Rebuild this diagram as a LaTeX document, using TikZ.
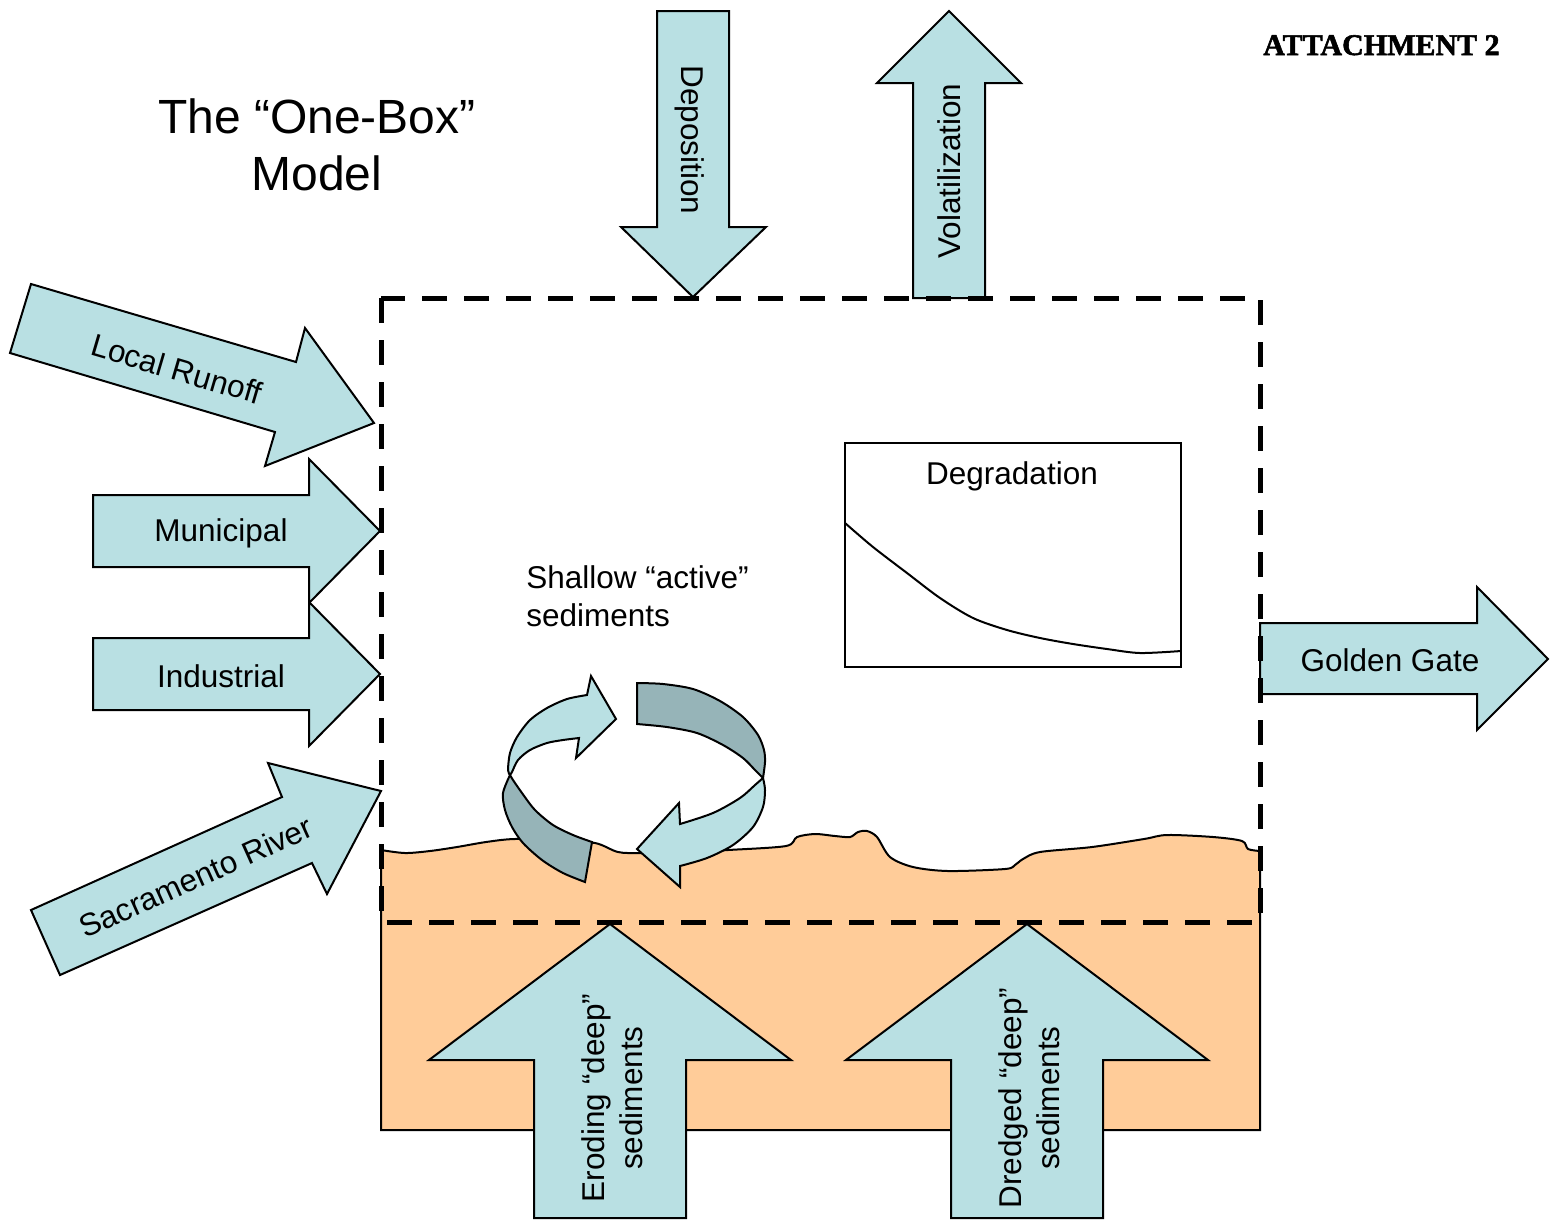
\documentclass[tikz,border=0pt]{standalone}
\usepackage{fontspec}
\setmainfont{Liberation Sans}
\newfontfamily\attachfont{Liberation Serif}[BoldFeatures={FakeBold=1.8}]
\definecolor{flowblue}{RGB}{185,224,227}
\definecolor{ribbongrey}{RGB}{150,180,184}
\definecolor{mud}{RGB}{255,204,153}
\tikzset{
  flow/.style={draw, line width=1pt, fill=flowblue, line join=miter},
  darkflow/.style={draw, line width=1pt, fill=ribbongrey},
  lbl/.style={font=\fontsize{15.75}{19}\selectfont, align=center, inner sep=0pt},
  boxline/.style={line width=2.5pt, dash pattern=on 12.5pt off 8.5pt}
}
\begin{document}
\begin{tikzpicture}[x=0.5pt, y=-0.5pt]
  \useasboundingbox (0,0) rectangle (1561,1222);
  % sediment layer with rough top
  \draw[line width=1pt, fill=mud] plot[smooth, tension=0.5] coordinates {(381,850) (405,853) (430,851) (457,847) (486,842) (514,839) (555,840) (595,843) (618,852) (641,853) (690,852) (728,850) (786,846) (797,837) (815,834) (835,836) (850,837) (858,832) (867,831) (877,837) (890,857) (913,867) (948,871) (1005,869) (1015,865) (1023,859) (1040,852) (1092,847) (1144,839) (1167,835) (1213,837) (1242,841) (1248,849) (1260,851)}
    -- (1260,1130) -- (381,1130) -- cycle;
  % degradation inset
  \draw[line width=1.3pt] (845,443) rectangle (1181,667);
  \draw[line width=1pt] plot[smooth] coordinates {(845,523) (873,547) (907,573) (940,598) (973,618) (1007,630) (1040,638) (1073,644) (1107,649) (1140,653) (1181,651)};
  \node[lbl] (degr) at (1012,476) {Degradation};
  % mixing loop
  \draw[darkflow] plot[smooth] coordinates {(510,775) (503,793) (505,810) (512,827) (523,843) (542,860) (563,873) (585,882)}
    -- (592,842) -- plot[smooth] coordinates {(592,842) (573,835) (553,825) (535,810) (522,793) (513,780) (510,775)} -- cycle;
  \draw[flow] plot[smooth] coordinates {(510,775) (508,770) (510,753) (517,737) (530,720) (547,708) (567,699) (587,695)}
    -- (591,676) -- (616,719) -- (576,758) -- (579,738)
    -- plot[smooth] coordinates {(579,738) (563,740) (547,743) (530,750) (518,760) (512,772) (510,775)} -- cycle;
  \draw[darkflow] (637,724) -- (637,683)
    -- plot[smooth] coordinates {(637,683) (663,684) (693,689) (720,701) (743,717) (758,735) (764,750) (765,762) (763,778)}
    -- plot[smooth] coordinates {(763,778) (755,770) (743,758) (723,745) (697,733) (667,727) (637,724)} -- cycle;
  \draw[flow] plot[smooth] coordinates {(763,778) (765,790) (763,807) (753,827) (733,845) (707,858) (680,866)}
    -- (680,887) -- (637,849) -- (679,803) -- (680,824)
    -- plot[smooth] coordinates {(680,824) (713,813) (740,798) (755,785) (763,778)} -- cycle;
  \node[lbl, align=left, anchor=north west] (shallow) at (526,565) {Shallow “active”\\sediments};
  % inflows from the left
  \draw[flow] (31,284) -- (296,362) -- (305,328) -- (374,423) -- (265,466) -- (275,432) -- (10,353) -- cycle;
  \node[lbl, rotate=-16.4] (runoff) at (177,369) {Local Runoff};
  \foreach \y/\name/\txt in {531/muni/Municipal, 674/indu/Industrial}{
    \draw[flow] (93,\y-36) -- (309,\y-36) -- (309,\y-72) -- (380,\y) -- (309,\y+72) -- (309,\y+36) -- (93,\y+36) -- cycle;
    \node[lbl] (\name) at (221,\y+2) {\txt};}
  \draw[flow] (31,910) -- (282,797) -- (268,763) -- (381,791) -- (327,894) -- (312,863) -- (60,975) -- cycle;
  \node[lbl, rotate=24.2] (sacto) at (196,877) {Sacramento River};
  % exchange with the air
  \draw[flow] (657,11) -- (729,11) -- (729,227) -- (766,227) -- (693,297) -- (621,227) -- (657,227) -- cycle;
  \node[lbl, rotate=-90] (depo) at (690,140) {Deposition};
  \draw[flow] (913,298) -- (913,83) -- (877,83) -- (949,11) -- (1021,83) -- (985,83) -- (985,298) -- cycle;
  \node[lbl, rotate=90] (vola) at (949,171) {Volatilization};
  % outflow
  \draw[flow] (1260,623) -- (1477,623) -- (1477,587) -- (1548,659) -- (1477,730) -- (1477,694) -- (1260,694) -- cycle;
  \node[lbl] (gate) at (1390,660) {Golden Gate};
  % deep sediment sources
  \foreach \x/\name/\txt in {610/erode/{Eroding “deep”\\sediments}, 1027/dredge/{Dredged “deep”\\sediments}}{
    \draw[flow] (\x-76,1218) -- (\x-76,1060) -- (\x-181,1060) -- (\x,924) -- (\x+181,1060) -- (\x+76,1060) -- (\x+76,1218) -- cycle;
    \node[lbl, rotate=90] (\name) at (\x+2,1098) {\txt};}
  % the one box
  \draw[boxline] (381,298) rectangle (1260,922);
  \node[font=\fontsize{24}{28.5}\selectfont, align=center, inner sep=0pt, anchor=north] (title) at (317,98) {The “One-Box”\\Model};
  \node[font=\attachfont\bfseries\fontsize{15}{18}\selectfont, anchor=base east, inner sep=0pt] (attach) at (1500,55) {ATTACHMENT 2};
\end{tikzpicture}
\end{document}
